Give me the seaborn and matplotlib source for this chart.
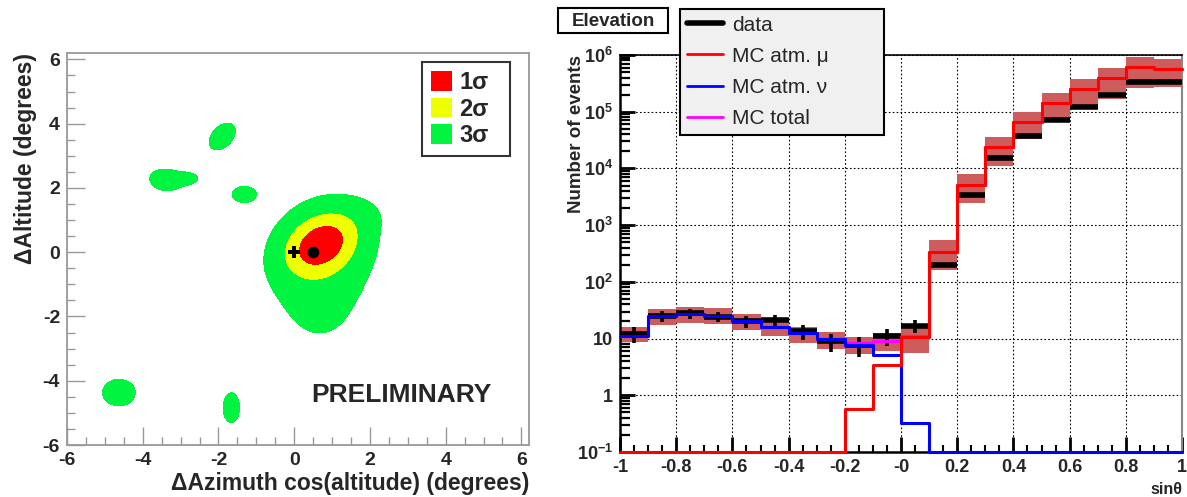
import numpy as np
import matplotlib
matplotlib.use("Agg")
import matplotlib.pyplot as plt
import seaborn as sns
from matplotlib.patches import Patch, Rectangle
from matplotlib.lines import Line2D
from matplotlib.ticker import MultipleLocator, LogLocator, NullFormatter

# ---------------- right panel data: elevation histogram ----------------
bin_edges = [-1.0, -0.9, -0.8, -0.7, -0.6, -0.5, -0.4, -0.3, -0.2, -0.1, 0.0,
             0.1, 0.2, 0.3, 0.4, 0.5, 0.6, 0.7, 0.8, 0.9, 1.0]
data_counts = [12, 25, 28, 24.5, 20, 21, 13.5, 9, 7.8, 11, 17, 195,
               3400, 15000, 37500, 72000, 120000, 200000, 330000, 330000]
data_err = [3.8, 5.5, 5.5, 5.2, 4.8, 4.9, 3.9, 3.2, 3.0, 3.6, 4.5, 0,
            0, 0, 0, 0, 0, 0, 0, 0]
mc_mu = [0, 0, 0, 0, 0, 0, 0, 0, 0.58, 3.4, 10.7, 340,
         5200, 24000, 66000, 140000, 255000, 400000, 620000, 560000]
mc_nu = [11, 25, 27.5, 25, 20, 16.3, 12.4, 9.7, 7.6, 5.1, 0.32, 0,
         0, 0, 0, 0, 0, 0, 0, 0]
mc_total = [11, 25, 27.5, 25, 20, 16.3, 12.4, 9.7, 8.2, 9.0, 11, 340,
            5200, 24000, 66000, 140000, 255000, 400000, 620000, 560000]
band_low = [8.7, 17.5, 18.7, 17.8, 14.2, 11.3, 8.3, 6.6, 5.4, 6.0, 5.6, 160,
            2500, 11000, 33000, 72000, 110000, 170000, 260000, 275000]
band_high = [16.3, 33.5, 36.5, 34, 26.6, 22.5, 16.3, 12.8, 10.7, 12.3, 17, 540,
             7900, 36000, 100000, 210000, 380000, 590000, 930000, 850000]
x_tick_values = [-1, -0.8, -0.6, -0.4, -0.2, 0, 0.2, 0.4, 0.6, 0.8, 1]
x_tick_labels = ["-1", "-0.8", "-0.6", "-0.4", "-0.2", "-0", "0.2", "0.4", "0.6", "0.8", "1"]
y_tick_values = [0.1, 1, 10, 100, 1e3, 1e4, 1e5, 1e6]
y_tick_labels = [r"$\mathbf{10^{-1}}$", "1", "10", r"$\mathbf{10^{2}}$", r"$\mathbf{10^{3}}$",
                 r"$\mathbf{10^{4}}$", r"$\mathbf{10^{5}}$", r"$\mathbf{10^{6}}$"]
legend_labels_right = ["data", "MC atm. \u03bc", "MC atm. \u03bd", "MC total"]

# ---------------- left panel data: likelihood map components ----------------
blob_amp = [1.0, 0.35, 0.12, 0.045, 0.13, 0.13, 0.11, 0.13, 0.13, 0.13]
blob_x = [0.70, 0.78, 0.68, 1.90, -1.90, -3.40, -2.80, -1.32, -4.63, -1.66]
blob_y = [0.25, 0.15, -1.30, 1.20, 3.60, 2.25, 2.30, 1.80, -4.37, -4.84]
blob_sx = [0.55, 0.75, 0.85, 0.45, 0.35, 0.42, 0.25, 0.32, 0.44, 0.22]
blob_sy = [0.55, 0.85, 1.30, 0.40, 0.42, 0.34, 0.14, 0.25, 0.42, 0.47]
blob_rho = [0.30, 0.15, 0.0, 0.0, 0.40, -0.10, 0.0, 0.0, 0.0, 0.0]
level_values = [0.08, 0.42, 0.90]          # 3 sigma, 2 sigma, 1 sigma thresholds
sigma_labels = ["1\u03c3", "2\u03c3", "3\u03c3"]
sigma_colors = ["#ff0000", "#eeff00", "#00f540"]
best_fit = [0.5, 0.0]
source_pos = [0.0, 0.0]
left_ticks = [-6, -4, -2, 0, 2, 4, 6]
left_tick_labels = ["-6", "-4", "-2", "0", "2", "4", "6"]

# ---------------- style ----------------
sns.set_style("white")
plt.rcParams["font.family"] = ["Liberation Sans", "DejaVu Sans"]
plt.rcParams["axes.unicode_minus"] = False
plt.rcParams["mathtext.fontset"] = "custom"
plt.rcParams["mathtext.rm"] = "Liberation Sans"
plt.rcParams["mathtext.bf"] = "Liberation Sans:bold"
plt.rcParams["mathtext.it"] = "Liberation Sans:italic"

W, H = 1187, 497
fig = plt.figure(figsize=(W / 100, H / 100), dpi=100)
fig.patch.set_facecolor("white")


def fx(px):
    return px / W


def fy(py):
    return 1 - py / H


axL = fig.add_axes([fx(67), fy(445), fx(529) - fx(67), fy(53) - fy(445)])
axR = fig.add_axes([fx(620), fy(452), fx(1182) - fx(620), fy(55) - fy(452)])

# ---------------- left panel ----------------
gx = np.linspace(-6, 6.2, 600)
gy = np.linspace(-6, 6.2, 600)
X, Y = np.meshgrid(gx, gy)
Z = np.zeros_like(X)
for a, x0, y0, sx, sy, r in zip(blob_amp, blob_x, blob_y, blob_sx, blob_sy, blob_rho):
    dx = (X - x0) / sx
    dy = (Y - y0) / sy
    q = (dx ** 2 + dy ** 2 - 2 * r * dx * dy) / (1 - r ** 2)
    Z += a * np.exp(-0.5 * q)
axL.contourf(X, Y, Z, levels=[level_values[0], level_values[1], level_values[2], Z.max() + 1],
             colors=[sigma_colors[2], sigma_colors[1], sigma_colors[0]], zorder=1)

sns.scatterplot(x=[best_fit[0]], y=[best_fit[1]], ax=axL, color="black", s=60,
                marker="o", edgecolor="black", zorder=5, legend=False)
sns.scatterplot(x=[source_pos[0]], y=[source_pos[1]], ax=axL, color="black", s=70,
                marker="P", linewidth=0, zorder=5, legend=False)

axL.set_xlim(-6, 6.2)
axL.set_ylim(-6, 6.2)
axL.set_xticks(left_ticks)
axL.set_xticklabels(left_tick_labels, fontsize=14, fontweight="bold")
axL.set_yticks(left_ticks)
axL.set_yticklabels(left_tick_labels, fontsize=14, fontweight="bold")
axL.xaxis.set_minor_locator(MultipleLocator(0.5))
axL.yaxis.set_minor_locator(MultipleLocator(0.5))
axL.tick_params(which="major", direction="in", length=13, width=1, color="#999999", pad=5,
                top=False, right=False, left=True, bottom=True)
axL.tick_params(which="minor", direction="in", length=6, width=1, color="#999999",
                top=False, right=False, left=True, bottom=True)
for sp in axL.spines.values():
    sp.set_color("#999999")
    sp.set_linewidth(1.3)

axL.set_xlabel("\u0394Azimuth cos(altitude) (degrees)", fontsize=16.5, fontweight="bold", loc="right")
axL.xaxis.set_label_coords(1.0, -0.07)
axL.set_ylabel("\u0394Altitude (degrees)", fontsize=16.5, fontweight="bold", loc="top")
axL.yaxis.set_label_coords(-0.065, 1.0)

axL.text(0.45, -4.45, "PRELIMINARY", fontsize=19, fontweight="bold", ha="left", va="center")

handlesL = [Patch(facecolor=c, edgecolor="none") for c in sigma_colors]
legL = axL.legend(handlesL, sigma_labels, loc="upper left",
                  bbox_to_anchor=(fx(422), fy(62), fx(510) - fx(422), 0), bbox_transform=fig.transFigure,
                  mode="expand", borderaxespad=0, fancybox=False, frameon=True,
                  prop={"weight": "bold", "size": 17}, handlelength=0.9, handleheight=0.9,
                  handletextpad=0.3, labelspacing=0.15, borderpad=0.38)
legL.get_frame().set_edgecolor("black")
legL.get_frame().set_linewidth(1.5)
legL.get_frame().set_facecolor("white")

# ---------------- right panel ----------------
ymin = 0.1
edges = np.array(bin_edges)
lefts = edges[:-1]
rights = edges[1:]
centers = (lefts + rights) / 2


def ext(v):
    return list(v) + [v[-1]]


axR.set_yscale("log")
axR.set_xlim(-1, 1)
axR.set_ylim(ymin, 1e6)
axR.grid(True, which="major", linestyle=(0, (1.5, 2)), color="black", linewidth=0.8, zorder=0)
axR.set_axisbelow(True)

axR.fill_between(edges, ext(band_low), ext(band_high), step="post", color="#cd5c5c", lw=0, zorder=1)

dc = np.array(data_counts, dtype=float)
de = np.array(data_err, dtype=float)
axR.hlines(dc, lefts, rights, color="black", lw=4, zorder=3)
m = de > 0
axR.vlines(centers[m], dc[m] - de[m], dc[m] + de[m], color="black", lw=2.6, zorder=3)

for vals, col, z in [(mc_total, "#ff00ff", 4), (mc_nu, "#0000ff", 5), (mc_mu, "#ff0000", 6)]:
    yv = np.clip(np.array(ext(vals), dtype=float), ymin, None)
    sns.lineplot(x=edges, y=yv, ax=axR, color=col, lw=2.2, drawstyle="steps-post",
                 estimator=None, sort=False, legend=False, clip_on=False, zorder=z)

axR.set_xticks(x_tick_values)
axR.set_xticklabels(x_tick_labels, fontsize=13, fontweight="bold")
axR.set_yticks(y_tick_values)
axR.set_yticklabels(y_tick_labels, fontsize=13, fontweight="bold")
axR.xaxis.set_minor_locator(MultipleLocator(0.05))
axR.yaxis.set_minor_locator(LogLocator(base=10, subs=np.arange(2, 10), numticks=20))
axR.yaxis.set_minor_formatter(NullFormatter())
axR.tick_params(which="major", direction="in", length=11, width=2, color="black", pad=5,
                top=False, right=False, left=True, bottom=True)
axR.tick_params(which="minor", direction="in", length=7, width=1.6, color="black",
                top=False, right=False, left=True, bottom=True)
axR.tick_params(axis="x", which="minor", length=5, width=1.5)
axR.spines["left"].set_color("black")
axR.spines["left"].set_linewidth(1.8)
axR.spines["bottom"].set_color("black")
axR.spines["bottom"].set_linewidth(1.8)
axR.spines["top"].set_color("black")
axR.spines["top"].set_linewidth(1.2)
axR.spines["right"].set_color("#888888")
axR.spines["right"].set_linewidth(1.5)

axR.set_xlabel("sin\u03b8", fontsize=11.5, fontweight="bold", loc="right")
axR.xaxis.set_label_coords(1.0, -0.075)
axR.set_ylabel("Number of events", fontsize=13.5, fontweight="bold", loc="top")
axR.yaxis.set_label_coords(-0.062, 1.0)

handlesR = [Line2D([], [], color="black", lw=4),
            Line2D([], [], color="#ff0000", lw=2),
            Line2D([], [], color="#0000ff", lw=2),
            Line2D([], [], color="#ff00ff", lw=2)]
legR = axR.legend(handlesR, legend_labels_right, loc="upper left",
                  bbox_to_anchor=(fx(680), fy(9), fx(884) - fx(680), 0), bbox_transform=fig.transFigure,
                  mode="expand", borderaxespad=0, fancybox=False, frameon=True,
                  prop={"size": 15}, handlelength=1.75, handletextpad=0.45,
                  labelspacing=0.58, borderpad=0.32)
legR.get_frame().set_edgecolor("black")
legR.get_frame().set_linewidth(1.5)
legR.get_frame().set_facecolor("#f0f0f0")
legR.get_frame().set_alpha(1)
legR.set_zorder(10)

# title box "Elevation"
fig.add_artist(Rectangle((fx(558), fy(33)), fx(668) - fx(558), fy(8) - fy(33),
                         transform=fig.transFigure, facecolor="white", edgecolor="black", lw=1.5))
fig.text(fx(613), fy(21), "Elevation", ha="center", va="center", fontsize=13.5, fontweight="bold")

fig.savefig("out.png", dpi=100, facecolor="white")
